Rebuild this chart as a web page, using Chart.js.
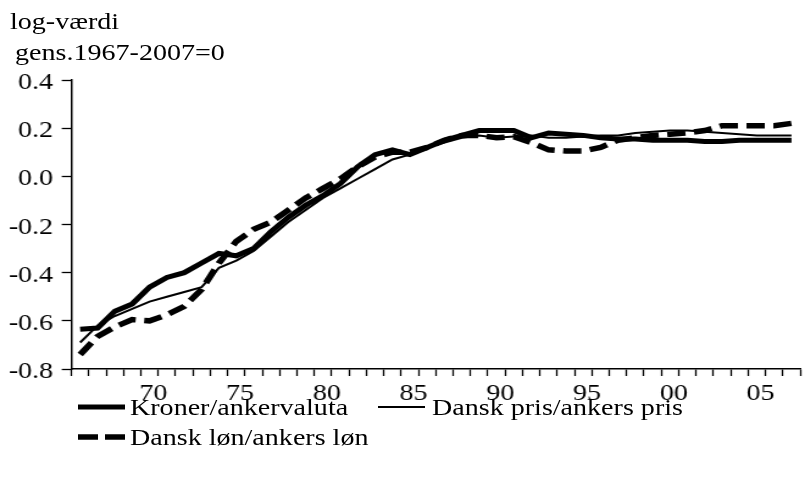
<!DOCTYPE html>
<html>
<head>
<meta charset="utf-8">
<script src="https://cdn.jsdelivr.net/npm/chart.js@4/dist/chart.umd.min.js"></script>
<style>
  html, body { margin: 0; padding: 0; background: #fff; }
  #wrap { position: relative; width: 805px; height: 477px; overflow: hidden; }
  .t { position: absolute; font-family: 'Liberation Serif', 'Times New Roman', serif; font-size: 23px; line-height: 23px;
       color: #000; white-space: nowrap; transform: scaleX(1.22); transform-origin: 0 0; }
  svg.s { position: absolute; left: 0; top: 0; }
</style>
</head>
<body>
<div id="wrap">
  <canvas id="c" width="660" height="477" style="position:absolute; left:0; top:0; width:805px; height:477px;"></canvas>
  <div class="t" style="left:10px; top:10px;">log-værdi</div>
  <div class="t" style="left:15px; top:41px;">gens.1967-2007=0</div>
  <svg class="s" width="805" height="477">
    <line x1="78" y1="407" x2="125" y2="407" stroke="#000" stroke-width="5"/>
    <line x1="378" y1="407" x2="425" y2="407" stroke="#000" stroke-width="2"/>
    <line x1="78" y1="437" x2="98" y2="437" stroke="#000" stroke-width="5.5"/>
    <line x1="105" y1="437" x2="125" y2="437" stroke="#000" stroke-width="5.5"/>
  </svg>
  <div class="t" style="left:130px; top:396px;">Kroner/ankervaluta</div>
  <div class="t" style="left:432px; top:396px;">Dansk pris/ankers pris</div>
  <div class="t" style="left:130px; top:426px;">Dansk løn/ankers løn</div>
</div>
<script>
// Years (annual observations, plotted at mid-year)
const years = [1965,1966,1967,1968,1969,1970,1971,1972,1973,1974,1975,1976,1977,1978,1979,1980,1981,1982,1983,1984,1985,1986,1987,1988,1989,1990,1991,1992,1993,1994,1995,1996,1997,1998,1999,2000,2001,2002,2003,2004,2005,2006];

const kroner = [-0.635,-0.63,-0.56,-0.53,-0.46,-0.42,-0.40,-0.36,-0.32,-0.33,-0.30,-0.23,-0.17,-0.12,-0.08,-0.03,0.04,0.09,0.11,0.09,0.12,0.15,0.17,0.19,0.19,0.19,0.16,0.18,0.175,0.17,0.16,0.155,0.155,0.15,0.15,0.15,0.145,0.145,0.15,0.15,0.15,0.15];

const danskPris = [-0.69,-0.62,-0.58,-0.55,-0.52,-0.50,-0.48,-0.46,-0.38,-0.35,-0.31,-0.25,-0.19,-0.14,-0.09,-0.05,-0.01,0.03,0.07,0.09,0.12,0.14,0.16,0.17,0.16,0.165,0.17,0.16,0.16,0.165,0.17,0.17,0.18,0.185,0.19,0.19,0.185,0.18,0.175,0.17,0.17,0.17];

const danskLon = [-0.74,-0.665,-0.625,-0.595,-0.60,-0.575,-0.54,-0.47,-0.36,-0.27,-0.22,-0.19,-0.14,-0.09,-0.05,-0.01,0.04,0.08,0.10,0.10,0.12,0.15,0.17,0.17,0.16,0.165,0.14,0.11,0.105,0.105,0.12,0.15,0.16,0.17,0.175,0.18,0.19,0.21,0.21,0.21,0.21,0.22];

const xTickYears = [1970,1975,1980,1985,1990,1995,2000,2005];
const yTicks = [-0.8,-0.6,-0.4,-0.2,0.0,0.2,0.4];

const seriesNames = ['Kroner/ankervaluta','Dansk pris/ankers pris','Dansk løn/ankers løn'];

function pts(vals) { return vals.map((v, i) => ({ x: years[i] + 0.5, y: v })); }

const FONT = { family: "'Liberation Serif', 'Times New Roman', serif", size: 23 };

new Chart(document.getElementById('c'), {
  type: 'line',
  data: {
    datasets: [
      { label: seriesNames[0], data: pts(kroner), borderColor: '#000', borderWidth: 5, pointRadius: 0, tension: 0, fill: false },
      { label: seriesNames[1], data: pts(danskPris), borderColor: '#000', borderWidth: 2, pointRadius: 0, tension: 0, fill: false },
      { label: seriesNames[2], data: pts(danskLon), borderColor: '#000', borderWidth: 5.5, borderDash: [15, 7], pointRadius: 0, tension: 0, fill: false }
    ]
  },
  options: {
    responsive: false,
    devicePixelRatio: 1,
    animation: false,
    layout: { padding: { top: 80, bottom: 68, left: 0, right: 0 } },
    plugins: { legend: { display: false }, tooltip: { enabled: false } },
    scales: {
      x: {
        type: 'linear',
        min: 1965, max: 2007,
        afterFit: s => { s.height = 40; },
        afterBuildTicks: s => { const t = []; for (let y = 1965; y <= 2007; y++) t.push({ value: y }); s.ticks = t; },
        ticks: {
          autoSkip: false, maxRotation: 0, color: '#000', font: FONT, padding: 4, labelOffset: -4,
          callback: v => xTickYears.includes(v) ? String(v % 100).padStart(2, '0') : ''
        },
        grid: { drawOnChartArea: false, drawTicks: true, tickLength: 7, color: '#000', tickWidth: 1.3 },
        border: { display: true, color: '#000', width: 1.5 }
      },
      y: {
        min: -0.8, max: 0.4,
        afterFit: s => { s.width = 58.6; },
        afterBuildTicks: s => { s.ticks = yTicks.map(v => ({ value: v })); },
        ticks: { color: '#000', font: FONT, padding: 7, labelOffset: 3, callback: v => Number(v).toFixed(1) },
        grid: { drawOnChartArea: false, drawTicks: true, tickLength: 8, color: '#000', tickWidth: 1.3 },
        border: { display: true, color: '#000', width: 1.5 }
      }
    }
  }
});
</script>
</body>
</html>
